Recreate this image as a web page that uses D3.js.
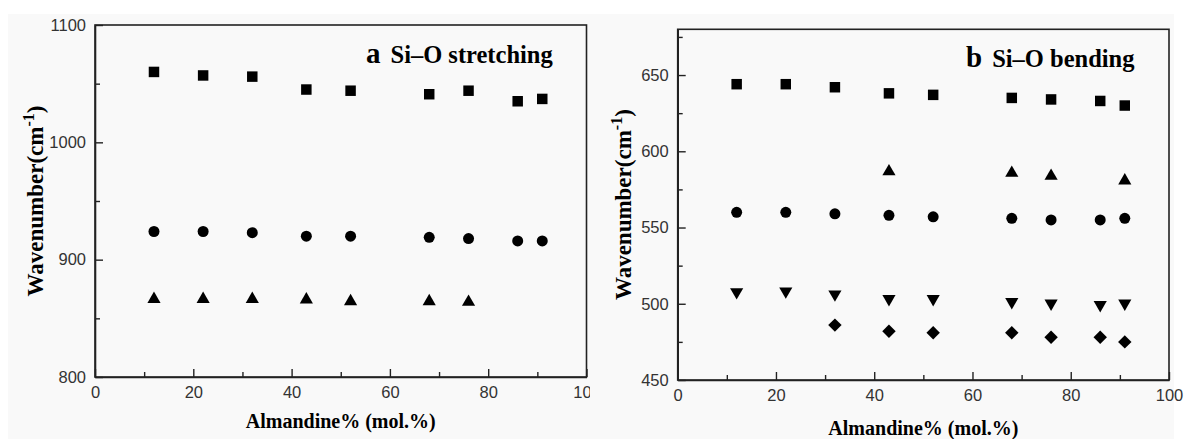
<!DOCTYPE html>
<html>
<head>
<meta charset="utf-8">
<script src="https://cdn.jsdelivr.net/npm/d3@7"></script>
<style>
  body { margin: 0; background: #fff; }
  svg { display: block; }
</style>
</head>
<body>
<div id="chart"></div>
<script>
// Almandine content (mol.%) of the samples
var almandine = [12, 22, 32, 43, 52, 68, 76, 86, 91];

// a: Si-O stretching
var stretchSquare = [1060, 1057, 1056, 1045, 1044, 1041, 1044, 1035, 1037];
var stretchCircle = [924, 924, 923, 920, 920, 919, 918, 916, 916];
var stretchTriX = [12, 22, 32, 43, 52, 68, 76];
var stretchTri = [868, 868, 868, 867.5, 866, 866, 865.5];

// b: Si-O bending
var bendSquare = [644, 644, 642, 638, 637, 635, 634, 633, 630];
var bendTriUpX = [43, 68, 76, 91];
var bendTriUp = [588, 587, 585, 582];
var bendCircle = [560, 560, 559, 558, 557, 556, 555, 555, 556];
var bendTriDown = [506.5, 507, 505, 502, 502, 500, 499, 498, 499];
var bendDiamondX = [32, 43, 52, 68, 76, 86, 91];
var bendDiamond = [486, 482, 481, 481, 478, 478, 475];

var xTicks = [0, 20, 40, 60, 80, 100];
var aTicks = [800, 900, 1000, 1100];
var bTicks = [450, 500, 550, 600, 650];

var W = 1184, H = 439;

// triangle centred on its bounding box (like Origin), not on its centroid
var triUp = {
    draw: function(ctx, size) {
        var s = Math.sqrt(size * 4 / Math.sqrt(3)), h = s * Math.sqrt(3) / 2;
        ctx.moveTo(0, -h / 2); ctx.lineTo(s / 2, h / 2); ctx.lineTo(-s / 2, h / 2); ctx.closePath();
    }
};
var triDown = {
    draw: function(ctx, size) {
        var s = Math.sqrt(size * 4 / Math.sqrt(3)), h = s * Math.sqrt(3) / 2;
        ctx.moveTo(0, h / 2); ctx.lineTo(s / 2, -h / 2); ctx.lineTo(-s / 2, -h / 2); ctx.closePath();
    }
};
var diamond = {
    draw: function(ctx, size) {
        var r = Math.sqrt(size * 2) / 2;
        ctx.moveTo(0, -r); ctx.lineTo(r, 0); ctx.lineTo(0, r); ctx.lineTo(-r, 0); ctx.closePath();
    }
};

var svg = d3.select("#chart").append("svg")
    .attr("width", W).attr("height", H);

svg.append("rect").attr("width", W).attr("height", H).attr("fill", "#fff");
svg.append("rect").attr("x", 8).attr("y", 14).attr("width", 1166).attr("height", H - 14).attr("fill", "#f9f9f9");

svg.append("clipPath").attr("id", "clipA")
    .append("rect").attr("x", 0).attr("y", 0).attr("width", 590).attr("height", H);

function panel(g, cfg) {
    var x = d3.scaleLinear().domain([0, 100]).range([cfg.left, cfg.right]);
    var y = d3.scaleLinear().domain(cfg.ydomain).range([cfg.bottom, cfg.top]);

    // frame
    g.append("rect")
        .attr("x", cfg.left).attr("y", cfg.top)
        .attr("width", cfg.right - cfg.left).attr("height", cfg.bottom - cfg.top)
        .attr("fill", "none").attr("stroke", "#222").attr("stroke-width", 1.6);

    // x axis, ticks pointing inwards
    g.append("g").attr("transform", "translate(0," + cfg.bottom + ")")
        .call(d3.axisBottom(x).tickValues(xTicks).tickFormat(d3.format("d"))
            .tickSizeInner(-8).tickSizeOuter(0).tickPadding(9));
    g.append("g").attr("transform", "translate(0," + cfg.bottom + ")")
        .call(d3.axisBottom(x).tickValues([10, 30, 50, 70, 90]).tickSize(-5).tickFormat(""))
        .call(function(s) { s.select(".domain").remove(); });

    g.append("g").attr("transform", "translate(" + cfg.left + ",0)")
        .call(d3.axisLeft(y).tickValues(cfg.yticks).tickFormat(d3.format("d"))
            .tickSizeInner(-8).tickSizeOuter(0).tickPadding(9));
    g.append("g").attr("transform", "translate(" + cfg.left + ",0)")
        .call(d3.axisLeft(y).tickValues(cfg.yminor).tickSize(-5).tickFormat(""))
        .call(function(s) { s.select(".domain").remove(); });

    g.selectAll(".domain").attr("stroke", "#222").attr("stroke-width", 1.6);
    g.selectAll(".tick line").attr("stroke", "#222").attr("stroke-width", 1.4);
    g.selectAll(".tick text")
        .attr("font-family", "'Liberation Sans', Arial, sans-serif")
        .attr("font-size", 16.5).attr("fill", "#333");

    // axis titles
    g.append("text")
        .attr("x", (cfg.left + cfg.right) / 2).attr("y", cfg.xlabelY)
        .attr("text-anchor", "middle")
        .attr("font-family", "'Liberation Serif', 'Times New Roman', serif")
        .attr("font-weight", "bold").attr("font-size", 20)
        .text("Almandine% (mol.%)");

    var yl = g.append("text")
        .attr("transform", "translate(" + cfg.ylabelX + "," + ((cfg.top + cfg.bottom) / 2) + ") rotate(-90)")
        .attr("text-anchor", "middle")
        .attr("font-family", "'Liberation Serif', 'Times New Roman', serif")
        .attr("font-weight", "bold").attr("font-size", 23);
    yl.append("tspan").text("Wavenumber(cm");
    yl.append("tspan").attr("font-size", 16).attr("dy", -9).text("-1");
    yl.append("tspan").attr("dy", 9).text(")");

    // panel title
    var t = g.append("text")
        .attr("x", cfg.titleX).attr("y", cfg.titleY)
        .attr("font-family", "'Liberation Serif', 'Times New Roman', serif")
        .attr("font-weight", "bold").attr("font-size", 24.5);
    t.append("tspan").attr("font-size", 29).text(cfg.letter);
    t.append("tspan").attr("dx", 10).text(cfg.title);

    // markers
    cfg.series.forEach(function(s) {
        var pts = s.xs.map(function(v, i) { return { x: v, y: s.ys[i] }; });
        g.selectAll(null).data(pts).enter().append("path")
            .attr("transform", function(d) { return "translate(" + x(d.x) + "," + y(d.y) + ")"; })
            .attr("d", d3.symbol().type(s.type).size(s.size))
            .attr("fill", "#000");
    });
}

var ga = svg.append("g").attr("clip-path", "url(#clipA)");
panel(ga, {
    left: 95, right: 586.5, top: 25, bottom: 377,
    ydomain: [800, 1100], yticks: aTicks, yminor: [850, 950, 1050],
    xlabelY: 428, ylabelX: 43, titleX: 366, titleY: 63,
    letter: "a", title: "Si\u2013O stretching",
    series: [
        { xs: almandine, ys: stretchSquare, type: d3.symbolSquare, size: 110 },
        { xs: almandine, ys: stretchCircle, type: d3.symbolCircle, size: 95 },
        { xs: stretchTriX, ys: stretchTri, type: triUp, size: 75 }
    ]
});

var gb = svg.append("g");
panel(gb, {
    left: 677.7, right: 1169, top: 29.3, bottom: 380,
    ydomain: [450, 680], yticks: bTicks, yminor: [475, 525, 575, 625, 675],
    xlabelY: 435, ylabelX: 631, titleX: 966, titleY: 67,
    letter: "b", title: "Si\u2013O bending",
    series: [
        { xs: almandine, ys: bendSquare, type: d3.symbolSquare, size: 110 },
        { xs: bendTriUpX, ys: bendTriUp, type: triUp, size: 75 },
        { xs: almandine, ys: bendCircle, type: d3.symbolCircle, size: 95 },
        { xs: almandine, ys: bendTriDown, type: triDown, size: 75 },
        { xs: bendDiamondX, ys: bendDiamond, type: diamond, size: 90 }
    ]
});
</script>
</body>
</html>
